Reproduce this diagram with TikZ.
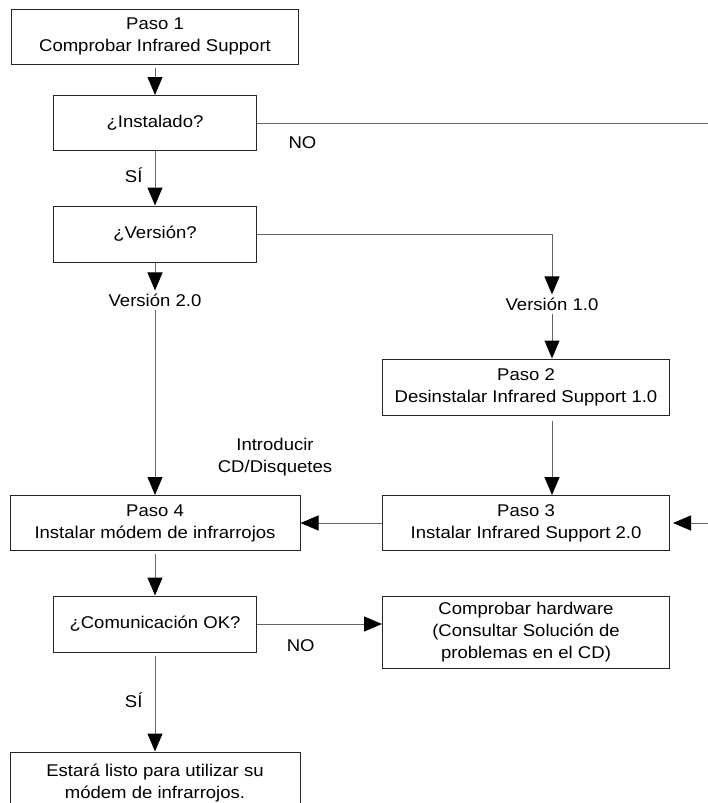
\documentclass[tikz,border=0pt]{standalone}
\usepackage{fontspec}
\setmainfont{Liberation Sans}[FakeStretch=1.09]
\usetikzlibrary{arrows.meta,positioning,calc}

\begin{document}
\begin{tikzpicture}[
  x=1pt, y=-1pt,
  font=\fontsize{17}{22}\selectfont,
  blk/.style   ={draw=black!85, line width=1pt, align=center,
                 inner sep=0pt, minimum height=55pt},
  wide/.style  ={blk, minimum width=287pt},
  narrow/.style={blk, minimum width=203pt},
  lab/.style   ={inner sep=3pt, align=center},
  fl/.style    ={-{Triangle[length=18pt,width=15pt,color=black]},
                 draw=black!60, line width=1pt}]

\useasboundingbox (0,0) rectangle (707,803);

\node[wide] (p1) at (155,36.5) {Paso 1\\Comprobar Infrared Support};
\node[narrow] (inst) at (155,123) {¿Instalado?};
\node[narrow, minimum height=56pt] (ver) at (155,234) {¿Versión?};
\node[lab] (v2) at (155,300) {Versión 2.0};
\node[lab] (v1) at (552,304) {Versión 1.0};
\node[wide, minimum height=56pt] (p2) at (526,387)
  {Paso 2\\Desinstalar Infrared Support 1.0};
\node[lab] (intro) at (275,457) {Introducir\\CD/Disquetes};
\node[blk, minimum width=290pt] (p4) at (155,523)
  {Paso 4\\Instalar módem de infrarrojos};
\node[wide] (p3) at (526,523) {Paso 3\\Instalar Infrared Support 2.0};
\node[narrow, minimum height=56pt] (com) at (155,624) {¿Comunicación OK?};
\node[wide, minimum height=72pt] (hw) at (526,632)
  {Comprobar hardware\\(Consultar Solución de\\problemas en el CD)};
\node[blk, minimum width=290pt, minimum height=62pt] (fin) at (155,783)
  {Estará listo para utilizar su\\módem de infrarrojos.};

% the NO branch leaves the page on the right
\coordinate (rgt) at (740,0);

\draw[fl, shorten <=3pt] (p1) -- (inst);
\draw[fl, shorten >=3pt] (inst.east)
  -- node[lab, pos=0.094, below=10pt] {NO} (inst.east -| rgt) |- (p3.east);
\draw[fl] (inst) -- node[lab, pos=0.45, left=9pt] {SÍ} (ver);
\draw[fl] (ver.east) -| (v1.north);
\draw[fl] (v1.south) -- (v1.south |- p2.north);
\draw[fl, shorten <=5pt] (p2.south -| v1) -- (p3.north -| v1);
\draw[fl] (ver) -- (v2);
\draw[fl] (v2) -- (p4);
\draw[fl] (p3) -- (p4);
\draw[fl, shorten <=3pt] (p4) -- (com);
\draw[fl] (com.east) -- node[lab, pos=0.35, below=12pt] {NO} (com.east -| hw.west);
\draw[fl, shorten <=3pt] (com) -- node[lab, pos=0.48, left=9pt] {SÍ} (fin);
\end{tikzpicture}
\end{document}
